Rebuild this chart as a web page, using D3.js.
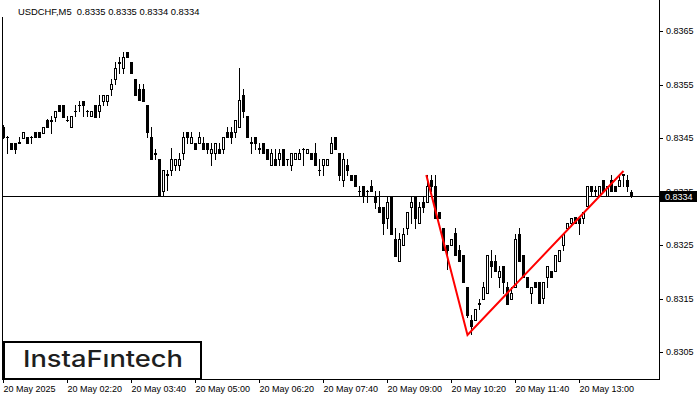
<!DOCTYPE html>
<html><head><meta charset="utf-8">
<script src="https://cdn.jsdelivr.net/npm/d3@7"></script>
<style>html,body{margin:0;padding:0;background:#fff;} svg{display:block;}</style>
</head><body><svg id="c" width="700" height="400"></svg>
<script>
const symbol = "USDCHF,M5";
// OHLC, one entry per 5-minute bar (starting at 01:00)
const open = [
0.83471,0.83452,0.83441,0.83441,0.83441,0.83450,0.83452,0.83452,0.83461,0.83461,
0.83460,0.83483,0.83482,0.83490,0.83512,0.83512,0.83483,0.83471,0.83500,0.83511,
0.83520,0.83501,0.83491,0.83512,0.83501,0.83520,0.83520,0.83542,0.83561,0.83591,
0.83581,0.83611,0.83592,0.83561,0.83542,0.83542,0.83512,0.83452,0.83421,0.83411,
0.83351,0.83381,0.83390,0.83400,0.83400,0.83422,0.83461,0.83441,0.83441,0.83441,
0.83441,0.83441,0.83422,0.83422,0.83430,0.83430,0.83461,0.83461,0.83461,0.83471,
0.83530,0.83491,0.83441,0.83452,0.83430,0.83441,0.83430,0.83400,0.83410,0.83410,
0.83430,0.83410,0.83400,0.83410,0.83410,0.83430,0.83422,0.83422,0.83422,0.83390,
0.83400,0.83400,0.83422,0.83452,0.83422,0.83371,0.83400,0.83381,0.83381,0.83351,
0.83361,0.83351,0.83361,0.83341,0.83321,0.83321,0.83300,0.83341,0.83261,0.83220,
0.83250,0.83281,0.83321,0.83341,0.83291,0.83331,0.83331,0.83371,0.83361,0.83311,
0.83281,0.83250,0.83250,0.83272,0.83241,0.83231,0.83171,0.83110,0.83110,0.83140,
0.83150,0.83160,0.83221,0.83221,0.83190,0.83211,0.83171,0.83150,0.83171,0.83271,
0.83231,0.83190,0.83160,0.83180,0.83180,0.83151,0.83190,0.83201,0.83201,0.83221,
0.83250,0.83281,0.83291,0.83303,0.83300,0.83301,0.83322,0.83361,0.83351,0.83342,
0.83371,0.83342,0.83371,0.83361,0.83361,0.83381,0.83371,0.83350];
const high = [
0.83475,0.83453,0.83441,0.83441,0.83452,0.83461,0.83452,0.83453,0.83461,0.83461,
0.83471,0.83485,0.83491,0.83501,0.83512,0.83512,0.83491,0.83491,0.83512,0.83520,
0.83520,0.83502,0.83501,0.83512,0.83530,0.83531,0.83530,0.83561,0.83592,0.83601,
0.83611,0.83611,0.83592,0.83561,0.83551,0.83551,0.83512,0.83471,0.83430,0.83411,
0.83390,0.83390,0.83432,0.83410,0.83422,0.83461,0.83461,0.83461,0.83441,0.83461,
0.83452,0.83441,0.83441,0.83441,0.83441,0.83452,0.83471,0.83471,0.83483,0.83581,
0.83542,0.83491,0.83452,0.83452,0.83441,0.83441,0.83430,0.83430,0.83430,0.83430,
0.83430,0.83411,0.83422,0.83422,0.83430,0.83431,0.83430,0.83422,0.83441,0.83410,
0.83410,0.83410,0.83452,0.83452,0.83422,0.83422,0.83410,0.83381,0.83381,0.83361,
0.83361,0.83352,0.83371,0.83351,0.83351,0.83321,0.83341,0.83341,0.83281,0.83272,
0.83281,0.83311,0.83341,0.83341,0.83331,0.83341,0.83381,0.83381,0.83381,0.83311,
0.83281,0.83250,0.83261,0.83281,0.83250,0.83231,0.83171,0.83120,0.83130,0.83150,
0.83180,0.83231,0.83241,0.83231,0.83211,0.83211,0.83180,0.83171,0.83271,0.83281,
0.83231,0.83190,0.83171,0.83180,0.83180,0.83180,0.83211,0.83201,0.83231,0.83241,
0.83270,0.83291,0.83300,0.83303,0.83300,0.83312,0.83361,0.83361,0.83361,0.83361,
0.83371,0.83361,0.83381,0.83361,0.83381,0.83383,0.83381,0.83352];
const low = [
0.83450,0.83422,0.83430,0.83422,0.83440,0.83450,0.83441,0.83441,0.83452,0.83452,
0.83460,0.83471,0.83460,0.83482,0.83501,0.83490,0.83482,0.83471,0.83491,0.83501,
0.83491,0.83491,0.83491,0.83490,0.83490,0.83512,0.83512,0.83530,0.83551,0.83571,
0.83571,0.83601,0.83571,0.83530,0.83521,0.83520,0.83452,0.83411,0.83410,0.83342,
0.83342,0.83353,0.83381,0.83390,0.83390,0.83411,0.83441,0.83441,0.83430,0.83441,
0.83430,0.83422,0.83400,0.83410,0.83422,0.83422,0.83452,0.83441,0.83452,0.83471,
0.83490,0.83452,0.83422,0.83430,0.83422,0.83422,0.83410,0.83400,0.83400,0.83400,
0.83400,0.83400,0.83390,0.83410,0.83410,0.83400,0.83422,0.83410,0.83400,0.83381,
0.83381,0.83400,0.83422,0.83430,0.83371,0.83361,0.83381,0.83371,0.83360,0.83342,
0.83330,0.83330,0.83351,0.83320,0.83311,0.83270,0.83281,0.83270,0.83230,0.83220,
0.83250,0.83270,0.83291,0.83281,0.83291,0.83311,0.83331,0.83351,0.83300,0.83300,
0.83240,0.83205,0.83250,0.83231,0.83221,0.83180,0.83115,0.83084,0.83110,0.83130,
0.83150,0.83160,0.83191,0.83201,0.83171,0.83160,0.83140,0.83150,0.83171,0.83221,
0.83190,0.83171,0.83141,0.83171,0.83141,0.83141,0.83171,0.83190,0.83201,0.83221,
0.83241,0.83281,0.83285,0.83291,0.83270,0.83291,0.83322,0.83342,0.83341,0.83341,
0.83351,0.83342,0.83351,0.83351,0.83361,0.83361,0.83351,0.83340];
const close = [
0.83452,0.83451,0.83430,0.83430,0.83442,0.83461,0.83441,0.83451,0.83452,0.83452,
0.83471,0.83471,0.83483,0.83501,0.83501,0.83490,0.83484,0.83491,0.83501,0.83512,
0.83512,0.83501,0.83501,0.83490,0.83512,0.83530,0.83530,0.83551,0.83581,0.83592,
0.83601,0.83601,0.83571,0.83530,0.83521,0.83520,0.83461,0.83411,0.83422,0.83342,
0.83390,0.83382,0.83410,0.83410,0.83410,0.83452,0.83452,0.83452,0.83430,0.83452,
0.83430,0.83430,0.83430,0.83441,0.83422,0.83452,0.83452,0.83452,0.83483,0.83521,
0.83501,0.83452,0.83442,0.83441,0.83431,0.83422,0.83410,0.83422,0.83400,0.83422,
0.83400,0.83410,0.83422,0.83422,0.83422,0.83430,0.83430,0.83410,0.83400,0.83391,
0.83410,0.83410,0.83441,0.83430,0.83381,0.83410,0.83390,0.83371,0.83360,0.83351,
0.83341,0.83351,0.83351,0.83330,0.83311,0.83291,0.83331,0.83270,0.83230,0.83261,
0.83270,0.83311,0.83331,0.83300,0.83321,0.83321,0.83360,0.83361,0.83300,0.83300,
0.83240,0.83240,0.83261,0.83231,0.83221,0.83180,0.83120,0.83099,0.83130,0.83141,
0.83171,0.83231,0.83211,0.83201,0.83201,0.83180,0.83140,0.83160,0.83261,0.83221,
0.83190,0.83171,0.83171,0.83171,0.83141,0.83180,0.83211,0.83190,0.83231,0.83241,
0.83270,0.83291,0.83300,0.83291,0.83291,0.83312,0.83361,0.83351,0.83352,0.83361,
0.83351,0.83361,0.83351,0.83351,0.83371,0.83382,0.83361,0.83342];

const priceTicks = [0.8305, 0.8315, 0.8325, 0.8335, 0.8345, 0.8355, 0.8365];
const timeTickIndex = [0, 16, 32, 48, 64, 80, 96, 112, 128, 144];
const timeTickLabels = ["20 May 2025", "20 May 02:20", "20 May 03:40", "20 May 05:00", "20 May 06:20",
  "20 May 07:40", "20 May 09:00", "20 May 10:20", "20 May 11:40", "20 May 13:00"];
const bid = 0.83342;
const patternIndex = [105.7, 116, 155];
const patternPrice = [0.83381, 0.83082, 0.83389];
const brand = "InstaF\u0131ntech";

const svg = d3.select("#c");
const fmt = d3.format(".4f");
const x = d3.scaleLinear().domain([0, 1]).range([3, 7]);
const y = d3.scaleLinear().domain([0.8305, 0.8365]).rangeRound([352, 31]);
const FONT = "'Liberation Sans', Arial, sans-serif";

svg.append("defs").append("clipPath").attr("id", "plot")
  .append("rect").attr("x", 3).attr("y", 0).attr("width", 656).attr("height", 379);

const bars = open.map((o, i) => ({i, o, h: high[i], l: low[i], c: close[i]}));
const gc = svg.append("g").attr("clip-path", "url(#plot)");

// current price line
gc.append("line").attr("x1", 3).attr("x2", 659)
  .attr("y1", y(bid) + 0.5).attr("y2", y(bid) + 0.5)
  .attr("stroke", "#000").attr("stroke-width", 1);

const cg = gc.selectAll("g.bar").data(bars).join("g").attr("class", "bar");
cg.append("line")
  .attr("x1", d => x(d.i) + 0.5).attr("x2", d => x(d.i) + 0.5)
  .attr("y1", d => y(d.h)).attr("y2", d => y(d.l) + 1)
  .attr("stroke", "#000").attr("stroke-width", 1);
cg.each(function(d) {
  const g = d3.select(this);
  const top = y(Math.max(d.o, d.c)), bot = y(Math.min(d.o, d.c));
  const cx = x(d.i);
  if (d.c > d.o && bot - top >= 2) {
    g.append("rect").attr("x", cx - 0.5).attr("y", top + 0.5)
      .attr("width", 2).attr("height", bot - top)
      .attr("fill", "#fff").attr("stroke", "#000").attr("stroke-width", 1);
  } else {
    g.append("rect").attr("x", cx - 1).attr("y", top)
      .attr("width", 3).attr("height", bot - top + 1).attr("fill", "#000");
  }
});

// pattern lines
const pat = patternIndex.map((v, k) => ({i: v, p: patternPrice[k]}));
gc.append("path").datum(pat)
  .attr("d", d3.line().x(d => x(d.i) + 0.5).y(d => y(d.p)))
  .attr("fill", "none").attr("stroke", "#ff0000").attr("stroke-width", 2);

// frame
svg.append("line").attr("x1", 659.5).attr("x2", 659.5).attr("y1", 0).attr("y2", 380).attr("stroke", "#000");
svg.append("line").attr("x1", 2.5).attr("x2", 2.5).attr("y1", 17).attr("y2", 380).attr("stroke", "#000");
svg.append("line").attr("x1", 2).attr("x2", 660).attr("y1", 379.5).attr("y2", 379.5).attr("stroke", "#000");

// right axis
const ya = svg.append("g").attr("transform", "translate(660,0)")
  .call(d3.axisRight(y).tickValues(priceTicks).tickFormat(fmt).tickSize(3).tickPadding(3));
ya.select(".domain").remove();
ya.attr("font-family", FONT).attr("font-size", 9);
ya.selectAll("text").attr("fill", "#000");

// bid box
svg.append("rect").attr("x", 660).attr("y", y(bid) - 5).attr("width", 37).attr("height", 11).attr("fill", "#000");
svg.append("text").attr("x", 665).attr("y", y(bid) + 4).attr("fill", "#fff")
  .attr("font-family", FONT).attr("font-size", 9).text(fmt(bid));

// bottom axis
const xa = svg.append("g").attr("transform", "translate(0,380)")
  .call(d3.axisBottom(x).tickValues(timeTickIndex).tickFormat((d, k) => timeTickLabels[k]).tickSize(3));
xa.select(".domain").remove();
xa.attr("font-family", FONT).attr("font-size", 9);
xa.selectAll("text").attr("text-anchor", "start").attr("dy", null).attr("y", 12).attr("x", 0).attr("fill", "#000");

// header
const last = bars[bars.length - 1];
svg.append("text").attr("x", 18).attr("y", 14.5)
  .attr("font-family", FONT).attr("font-size", 9.4).attr("fill", "#000")
  .attr("xml:space", "preserve")
  .text(symbol + "  " + [last.o, last.h, last.l, last.c].map(fmt).join(" "));

// logo
svg.append("rect").attr("x", 4).attr("y", 342).attr("width", 197).attr("height", 37)
  .attr("fill", "#fff").attr("stroke", "#000").attr("stroke-width", 2);
svg.append("text").attr("x", 23).attr("y", 367.3)
  .attr("font-family", "Inter, Lato, sans-serif").attr("font-weight", 500)
  .attr("font-size", 23.5).attr("fill", "#1e1e1e")
  .attr("textLength", 160).attr("lengthAdjust", "spacingAndGlyphs")
  .text(brand);
</script></body></html>
